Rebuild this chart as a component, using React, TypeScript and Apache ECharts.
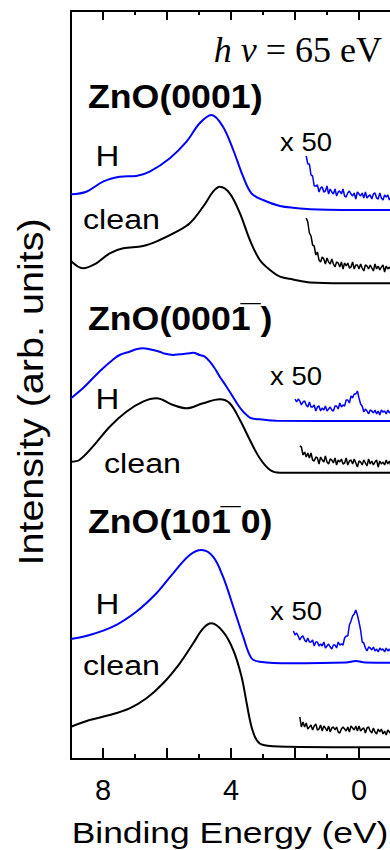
import React, { useEffect, useRef } from "react";
import * as echarts from "echarts";

// ---------- data (binding energy in eV, intensity in arb. units incl. vertical offset) ----------
const xTickLabels = [8, 4, 0];
const xMajorTicks = [8, 6, 4, 2, 0];
const xMinorTicks = [7, 5, 3, 1];

// ZnO(0001)
const h0001: [number, number][] = [
  [9.0, 564.7], [8.52, 567.3], [8.0, 577.3], [7.48, 582.3], [6.96, 583], [6.54, 587.3], [5.91, 600.7],
  [5.39, 617.3], [4.98, 635.7], [4.61, 644], [4.25, 632.3], [3.93, 609], [3.62, 582.3], [3.36, 565.7],
  [3.0, 559], [2.47, 553], [2.0, 551], [1.53, 549.7], [0.5, 549], [-1, 549],
];
const clean0001: [number, number][] = [
  [9.0, 498], [8.63, 490.7], [8.21, 495.7], [7.79, 505.7], [7.37, 510.7], [6.75, 513], [6.23, 519],
  [5.7, 527.3], [5.29, 535.7], [4.87, 552.3], [4.56, 567.3], [4.35, 572.3], [4.04, 565.7], [3.72, 545.7],
  [3.41, 519], [3.1, 499], [2.78, 489], [2.47, 482.3], [2.06, 479.5], [1.53, 476.5], [0.5, 475.7], [-1, 475.7],
];
// ZnO(000-1)
const hO: [number, number][] = [
  [9.0, 360.7], [8.63, 370.7], [8.32, 380.7], [8.0, 390.7], [7.7, 399], [7.48, 404], [7.17, 407.3],
  [6.96, 409.7], [6.75, 410.7], [6.54, 409.7], [6.23, 407.3], [6.12, 405.7], [5.81, 404], [5.6, 404.7],
  [5.29, 405.7], [5.18, 406.3], [4.98, 404], [4.82, 402.3], [4.66, 397.3], [4.51, 390.7], [4.35, 382.3],
  [4.14, 372.3], [3.94, 362.3], [3.78, 354], [3.62, 347.3], [3.51, 344], [3.36, 340.7], [3.1, 339.7],
  [2.58, 338.3], [-1, 338],
];
const cleanO: [number, number][] = [
  [9.0, 297.3], [8.74, 299], [8.32, 312.3], [7.79, 332.3], [7.27, 347.3], [6.75, 357.3], [6.33, 360.7],
  [5.81, 354], [5.39, 350.7], [4.87, 355.7], [4.35, 359.7], [4.04, 355.7], [3.72, 339], [3.41, 319],
  [3.1, 300.7], [2.78, 289], [2.47, 286.3], [-1, 286.3],
];
// ZnO(10-10)
const hM: [number, number][] = [
  [9.0, 120], [8.42, 124], [7.69, 132.3], [6.96, 147.3], [6.33, 165.7], [5.81, 185.7], [5.29, 204],
  [4.92, 209], [4.56, 202.3], [4.25, 182.3], [3.93, 152.3], [3.62, 122.3], [3.36, 100.7], [3.1, 97.3],
  [2.16, 95.7], [0.4, 96.5], [0.1, 98], [-0.2, 96.5], [-1, 96.3],
];
const cleanM: [number, number][] = [
  [9.0, 32.3], [8.42, 39], [7.79, 44], [7.17, 50.7], [6.64, 60.7], [6.12, 75.7], [5.6, 95.7], [5.18, 115.7],
  [4.87, 130.7], [4.61, 135.7], [4.25, 127.3], [3.93, 109], [3.67, 82.3], [3.51, 55.7], [3.36, 32.3],
  [3.2, 19], [2.99, 14], [2.16, 12.3], [-1, 11.7],
];

// x50 magnified spectra near the Fermi level, sampled every 0.05 eV from a start energy
const x50Step = 0.05;
const x50H0001Start = 1.65;
const x50H0001 = [
  603, 595, 595, 584, 583, 573, 573, 574, 567, 571, 572, 567, 568, 573, 565, 570, 567, 565, 570, 563,
  567, 568, 565, 570, 563, 562, 566, 568, 565, 563, 566, 560, 567, 565, 563, 566, 561, 567, 561, 563,
  564, 560, 565, 566, 561, 560, 566, 561, 559, 564, 562, 564, 559, 562,
];
const x50Clean0001Start = 1.65;
const x50Clean0001 = [
  541, 537, 526, 523, 514, 513, 504, 507, 499, 497, 502, 500, 495, 501, 497, 495, 500, 495, 492, 497,
  496, 492, 497, 490, 496, 493, 496, 491, 492, 497, 490, 494, 494, 490, 495, 491, 488, 494, 493, 490,
  494, 491, 488, 495, 490, 493, 489, 492, 494, 487, 493, 490, 492, 489,
];
const x50HOStart = 2.0;
const x50HO = [
  360, 357, 360, 358, 354, 357, 358, 354, 352, 357, 352, 352, 354, 348, 352, 353, 348, 351, 349, 353,
  348, 350, 352, 349, 348, 353, 353, 350, 356, 352, 354, 353, 359, 359, 356, 363, 361, 365, 365, 368,
  361, 355, 353, 347, 350, 348, 345, 349, 348, 346, 349, 345, 348, 344, 349, 347, 348, 345, 349, 346,
  348,
];
const x50CleanOStart = 1.85;
const x50CleanO = [
  313, 312, 304, 307, 302, 306, 301, 306, 299, 298, 302, 301, 295, 302, 299, 297, 303, 297, 295, 300,
  299, 296, 301, 294, 299, 297, 300, 295, 296, 301, 294, 298, 299, 295, 300, 296, 292, 298, 297, 294,
  299, 296, 293, 300, 295, 298, 294, 297, 299, 292, 298, 295, 297, 294, 299, 295, 298, 293,
];
const x50HMStart = 2.05;
const x50HM = [
  128, 124, 126, 123, 119, 122, 123, 119, 117, 121, 117, 117, 119, 113, 117, 117, 113, 115, 113, 117,
  111, 113, 115, 112, 110, 114, 114, 111, 117, 114, 115, 114, 121, 123, 123, 134, 138, 143, 145, 149,
  144, 137, 129, 117, 116, 111, 108, 112, 111, 109, 112, 108, 110, 107, 111, 109, 110, 107, 111, 108,
  110, 107,
];
const x50CleanMStart = 1.85;
const x50CleanM = [
  42, 32, 37, 32, 36, 30, 32, 34, 29, 33, 35, 29, 30, 34, 28, 33, 31, 28, 33, 27,
  31, 32, 29, 32, 27, 26, 30, 32, 30, 28, 32, 27, 33, 31, 29, 33, 28, 33, 28, 30,
  31, 26, 31, 32, 28, 26, 31, 27, 25, 30, 27, 30, 25, 28, 24, 29, 27, 25,
];

// ---------- styling ----------
const BLUE = "#0000ff";
const BLACK = "#000000";
const SANS = "'Liberation Sans', Arial, Helvetica, sans-serif";
const SERIF = "'Liberation Serif', 'Times New Roman', serif";

function sampled(start: number, values: number[]): [number, number][] {
  return values.map((v, i) => [Number((start - i * x50Step).toFixed(2)), v]);
}

function mainLine(name: string, data: [number, number][], color: string) {
  return {
    name,
    type: "line",
    data,
    smooth: 0.35,
    showSymbol: false,
    symbol: "none",
    lineStyle: { color, width: 2 },
    z: 3,
  };
}
function noisyLine(name: string, data: [number, number][], color: string) {
  return {
    name,
    type: "line",
    data,
    smooth: false,
    showSymbol: false,
    symbol: "none",
    lineStyle: { color, width: 1.5 },
    z: 2,
  };
}

function txt(text: string, x: number, y: number, fontSize: number, opts: any = {}) {
  return {
    type: "text",
    x,
    y,
    scaleX: opts.scaleX ?? 1,
    rotation: opts.rotation ?? 0,
    z: 10,
    style: {
      text,
      fill: BLACK,
      fontSize,
      fontFamily: opts.fontFamily ?? SANS,
      fontWeight: opts.fontWeight ?? "normal",
      textAlign: opts.align ?? "center",
      align: opts.align ?? "center",
      textVerticalAlign: "middle",
      verticalAlign: "middle",
      rich: opts.rich,
    },
  };
}

export default function App() {
  const ref = useRef<HTMLDivElement>(null);
  useEffect(() => {
    if (!ref.current) return;
    const chart = echarts.init(ref.current, undefined, { renderer: "svg" });
    const axisLineStyle = { color: BLACK, width: 2 };
    const xBase = {
      type: "value",
      inverse: true,
      min: -1,
      max: 9,
      interval: 1,
      splitLine: { show: false },
      minorSplitLine: { show: false },
    };
    const option: any = {
      animation: false,
      backgroundColor: "#ffffff",
      grid: { left: 71, top: 11, width: 320, height: 748, containLabel: false, outerBoundsMode: "none" },
      xAxis: [
        {
          ...xBase,
          position: "bottom",
          axisLine: { show: true, onZero: false, lineStyle: axisLineStyle },
          axisTick: { show: true, inside: true, length: 11, customValues: xMajorTicks, lineStyle: axisLineStyle },
          axisLabel: {
            show: true,
            margin: 16,
            color: BLACK,
            fontSize: 29,
            fontFamily: SANS,
            customValues: xTickLabels,
            formatter: (v: number) => (xTickLabels.includes(v) ? String(v) : ""),
          },
        },
        {
          ...xBase,
          position: "bottom",
          axisLine: { show: false, onZero: false },
          axisTick: { show: true, inside: true, length: 5, customValues: xMinorTicks, lineStyle: axisLineStyle },
          axisLabel: { show: false },
        },
        {
          ...xBase,
          position: "top",
          axisLine: { show: true, onZero: false, lineStyle: axisLineStyle },
          axisTick: { show: true, inside: true, length: 9, customValues: xMajorTicks, lineStyle: axisLineStyle },
          axisLabel: { show: false },
        },
        {
          ...xBase,
          position: "top",
          axisLine: { show: false, onZero: false },
          axisTick: { show: true, inside: true, length: 4, customValues: xMinorTicks, lineStyle: axisLineStyle },
          axisLabel: { show: false },
        },
      ],
      yAxis: {
        type: "value",
        min: 0,
        max: 748,
        axisLine: { show: true, onZero: false, lineStyle: axisLineStyle },
        axisTick: { show: false },
        axisLabel: { show: false },
        splitLine: { show: false },
      },
      series: [
        mainLine("ZnO(0001) H", h0001, BLUE),
        mainLine("ZnO(0001) clean", clean0001, BLACK),
        mainLine("ZnO(000-1) H", hO, BLUE),
        mainLine("ZnO(000-1) clean", cleanO, BLACK),
        mainLine("ZnO(10-10) H", hM, BLUE),
        mainLine("ZnO(10-10) clean", cleanM, BLACK),
        noisyLine("ZnO(0001) H x50", sampled(x50H0001Start, x50H0001), BLUE),
        noisyLine("ZnO(0001) clean x50", sampled(x50Clean0001Start, x50Clean0001), BLACK),
        noisyLine("ZnO(000-1) H x50", sampled(x50HOStart, x50HO), BLUE),
        noisyLine("ZnO(000-1) clean x50", sampled(x50CleanOStart, x50CleanO), BLACK),
        noisyLine("ZnO(10-10) H x50", sampled(x50HMStart, x50HM), BLUE),
        noisyLine("ZnO(10-10) clean x50", sampled(x50CleanMStart, x50CleanM), BLACK),
      ],
      graphic: [
        txt("{i|h ν} = 65 eV", 382, 50, 36, {
          align: "right",
          fontFamily: SERIF,
          rich: { i: { fontStyle: "italic", fontSize: 36, fontFamily: SERIF, fill: BLACK } },
        }),
        txt("ZnO(0001)", 88, 96, 34, { align: "left", fontWeight: "bold", scaleX: 1.05 }),
        txt("ZnO(0001\u0305 )", 88, 318, 34, { align: "left", fontWeight: "bold", scaleX: 1.05 }),
        txt("ZnO(101\u0305 0)", 88, 521, 34, { align: "left", fontWeight: "bold", scaleX: 1.05 }),
        txt("H", 107.5, 156, 30, { scaleX: 1.1 }),
        txt("H", 107.5, 399, 30, { scaleX: 1.1 }),
        txt("H", 107.5, 603.5, 30, { scaleX: 1.1 }),
        txt("clean", 121.5, 219, 28, { scaleX: 1.15 }),
        txt("clean", 142.5, 463, 28, { scaleX: 1.15 }),
        txt("clean", 121.5, 665, 28, { scaleX: 1.15 }),
        txt("x 50", 306, 142.5, 25, { scaleX: 1.1 }),
        txt("x 50", 296, 376.5, 25, { scaleX: 1.1 }),
        txt("x 50", 296, 611, 25, { scaleX: 1.1 }),
        txt("Intensity (arb. units)", 31, 392, 35, { scaleX: 1.13, rotation: Math.PI / 2 }),
        txt("Binding Energy (eV)", 230, 832, 30, { scaleX: 1.18 }),
      ],
    };
    chart.setOption(option);
    return () => chart.dispose();
  }, []);
  return (
    <div
      ref={ref}
      style={{ position: "fixed", left: 0, top: 0, width: 390, height: 850, background: "#fff" }}
    />
  );
}
